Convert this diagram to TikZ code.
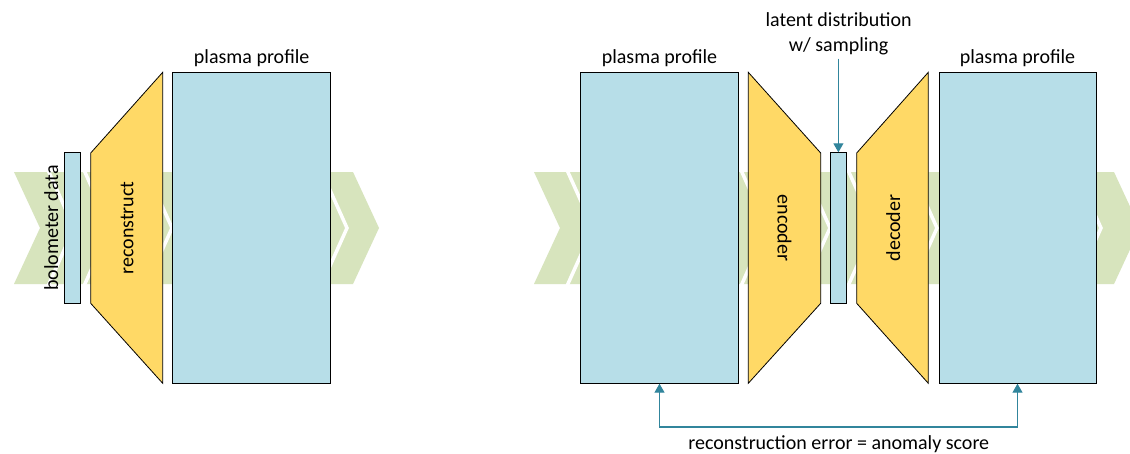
\documentclass[tikz,border=0pt]{standalone}
\usepackage{fontspec}
\setmainfont{Carlito}
\usetikzlibrary{arrows.meta}
\definecolor{boxblue}{HTML}{B7DEE8}
\definecolor{boxyellow}{HTML}{FFD966}
\definecolor{chevgreen}{HTML}{D7E4BD}
\definecolor{tealc}{HTML}{31859C}
\tikzset{
  bluebox/.style={draw=black, line width=0.8pt, fill=boxblue, inner sep=0pt},
  yellowbox/.style={draw=black, line width=0.8pt, fill=boxyellow, line join=miter},
  chevband/.style={fill=chevgreen, draw=none},
  chevgap/.style={draw=white, line width=3.5pt},
  lbl/.style={font=\fontsize{20}{25}\selectfont, inner sep=0pt},
  conn/.style={draw=tealc, line width=1.2pt, -{Triangle[length=9pt,width=10pt]}},
  conn2/.style={draw=tealc, line width=1.2pt, {Triangle[length=9pt,width=10pt]}-{Triangle[length=9pt,width=10pt]}}
}
\begin{document}
\begin{tikzpicture}[x=1pt,y=-1pt]
\useasboundingbox (0,0) rectangle (1130,453);
\clip (0,0) rectangle (1130,453);
\fill[white] (0,0) rectangle (1130,453);

% chevron bands
\path[chevband] (14,172) -- (353,172) -- (379,228) -- (353,284) -- (14,284) -- (40,228) -- cycle;
\foreach \s in {48,84,146,321}{
  \draw[chevgap] (\s,170) -- (\s+26,228) -- (\s,286);
}
\path[chevband] (534,172) -- (1114,172) -- (1140,228) -- (1114,284) -- (534,284) -- (560,228) -- cycle;
\foreach \s in {567,741,804,848,911,1075}{
  \draw[chevgap] (\s,170) -- (\s+26,228) -- (\s,286);
}

% ---------- left panel ----------
\node[bluebox, minimum width=16.4pt, minimum height=150.6pt] (bolo) at (72.5,228) {};
\node[lbl, rotate=90, anchor=base] (bolotxt) at (58,228) {bolometer data};

\draw[yellowbox] (90.7,153) coordinate (r1) -- (162.7,72.3) coordinate (r2) -- (162.7,383.3) coordinate (r3) -- (90.7,303.3) coordinate (r4) -- cycle;
\node[lbl, rotate=90, anchor=base] (rectxt) at (133.3,228) {reconstruct};

\node[bluebox, minimum width=158pt, minimum height=311pt] (pp0) at (251.7,227.8) {};
\node[lbl, anchor=base] (pp0txt) at (251.7,63.5) {plasma profile};

% ---------- right panel ----------
\node[bluebox, minimum width=157.6pt, minimum height=311pt] (pp1) at (659.5,227.8) {};
\node[lbl, anchor=base] (pp1txt) at (659.5,63.5) {plasma profile};

\draw[yellowbox] (748.3,72.3) coordinate (e1) -- (820.7,153) coordinate (e2) -- (820.7,303.3) coordinate (e3) -- (748.3,383.3) coordinate (e4) -- cycle;
\node[lbl, rotate=-90, anchor=base] (enctxt) at (777.5,228) {encoder};

\node[bluebox, minimum width=16.7pt, minimum height=150.6pt] (lat) at (838.4,228) {};

\draw[yellowbox] (856.7,153) coordinate (d1) -- (928.3,72.3) coordinate (d2) -- (928.3,383.3) coordinate (d3) -- (856.7,303.3) coordinate (d4) -- cycle;
\node[lbl, rotate=90, anchor=base] (dectxt) at (900,228) {decoder};

\node[bluebox, minimum width=157pt, minimum height=311pt] (pp2) at (1017.5,227.8) {};
\node[lbl, anchor=base] (pp2txt) at (1017.5,63.5) {plasma profile};

% latent label and arrow
\node[lbl, anchor=base] (lattxt1) at (838.6,26.7) {latent distribution};
\node[lbl, anchor=base] (lattxt2) at (838.6,51.7) {w/ sampling};
\coordinate (latstart) at (838.4,58.5);
\draw[conn] (latstart) -- (lat.north);

% reconstruction error connector
\draw[conn2] (pp1.south) -- ++(0,43.2) -| (pp2.south);
\node[lbl, anchor=base] (errtxt) at (838.8,449) {reconstruction error = anomaly score};
\end{tikzpicture}
\end{document}
